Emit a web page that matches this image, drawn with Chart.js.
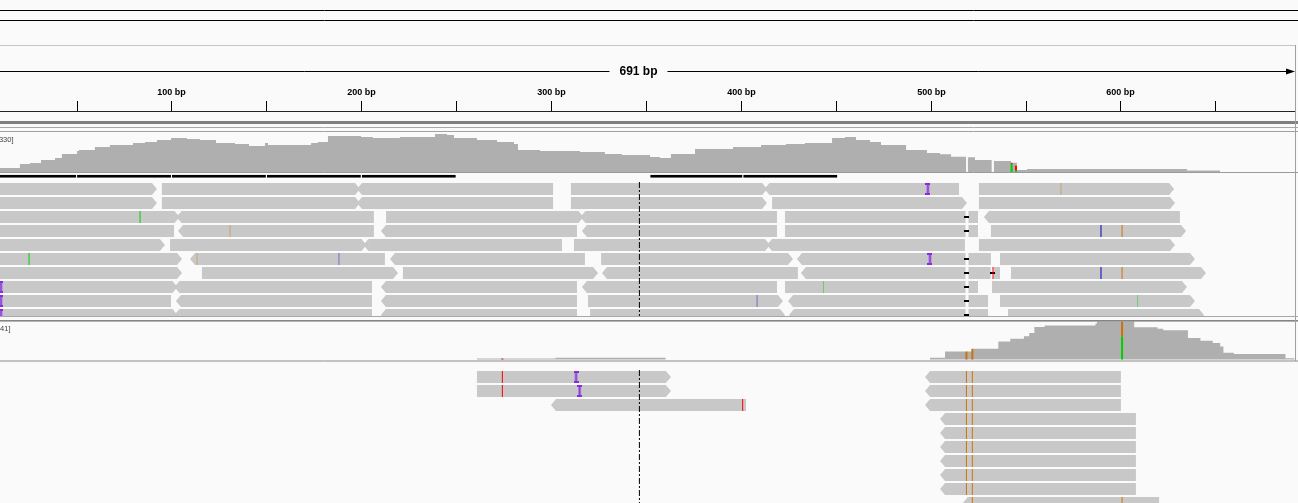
<!DOCTYPE html>
<html>
<head>
<meta charset="utf-8">
<title>IGV alignment view</title>
<script src="https://cdn.jsdelivr.net/npm/chart.js@4.4.1/dist/chart.umd.min.js"></script>
<style>
html,body{margin:0;padding:0;background:#fafafa;overflow:hidden;}
#wrap{position:relative;width:1298px;height:503px;}
</style>
</head>
<body>
<div id="wrap"><canvas id="chart"></canvas></div>
<script>
// ======================= DATA =======================
const viewRange = [9.4, 693.3];          // visible genomic window (bp)
const regionLabel = '691 bp';
const centerBp = 346.3;
const rulerStep = 50;
const rulerLabelStep = 100;

// coverage track 1 (step starts in bp, depth)
const cov1Pos = [9.4,19.9,25.2,31.0,38.4,42.0,50.0,51.0,59.4,67.3,79.5,85.8,92.1,99.5,107.9,114.8,123.2,133.2,140.6,149.0,150.6,173.3,176.9,182.2,199.6,205.9,220.1,238.6,244.9,248.6,260.7,271.3,280.2,282.3,293.9,315.0,328.1,337.1,351.9,357.1,362.9,375.6,395.6,410.4,423.5,433.5,447.8,454.6,460.4,467.8,473.6,486.8,497.8,504.7,510.5,518.4,519.4,523.1,531.9,533.1,542.1,545.2,550.5,634.8,652.2];
const cov1Depth = [34,68,76,102,118,152,178,186,212,228,245,254,271,288,279,271,245,237,220,245,228,245,254,305,296,288,296,322,313,288,271,254,237,186,178,169,152,144,127,118,152,195,212,228,237,245,288,296,271,254,228,186,161,150,129,0,124,102,0,93,79,17,25,13,0];
const cov1Max = 330;
const cov1Alleles = [[542.4,'A',0,70],[542.4,'T',70,77],[544.7,'A',0,14],[544.7,'T',14,53]];

// coverage track 2
const cov2Pos = [260.7,302.1,360.1,499.4,507.3,521.9,535.4,541.7,548.9,551.7,554.4,559.8,586.6,587.4,607.0,619.3,622.3,635.3,641.9,648.4,652.3,654.0,659.5,686.7,691.5];
const cov2Depth = [1,2,0,2,8.5,11.5,19.5,22.4,25,28.6,35.2,36.6,38.8,41,34.8,33.3,31.5,23.2,20.2,17.7,14,7.4,6,1.3,0];
const cov2Max = 41;
const cov2Alleles = [[274.1,'T',0,1],[518.6,'G',0,8.5],[521.7,'G',0,11.5],[600.6,'A',0,25],[600.6,'G',25,41]];

// downsampled windows (bp)
const downsampled = [[0,50],[50,100],[100,150],[150,200],[200,250],[352,401],[401,451]];

// reads: [row, start, end, strand]
const reads1 = [
 [0,0,92.1,'+'],[0,94.7,199.1,'+'],[0,197.5,300.8,'-'],[0,310.2,413.6,'+'],[0,412.2,514.7,'-'],[0,525.2,628.0,'+'],
 [1,0,92.1,'+'],[1,94.7,199.1,'+'],[1,197.5,300.8,'-'],[1,310.2,413.5,'+'],[1,416.2,518.9,'+'],[1,525.2,628.5,'+'],
 [2,0,104.0,'+'],[2,102.4,206.4,'-'],[2,212.8,316.8,'+'],[2,315.2,418.8,'-'],[2,423.0,524.7,''],[2,527.8,631.1,'-'],
 [3,0,101.1,''],[3,103.2,206.4,'-'],[3,210.1,313.4,'-'],[3,316.0,418.8,'-'],[3,423.0,524.7,''],[3,531.5,634.3,'+'],
 [4,0,96.3,'+'],[4,99.0,202.5,'+'],[4,200.9,305.5,'-'],[4,311.8,415.1,'+'],[4,413.5,517.8,'-'],[4,525.2,628.5,'+'],
 [5,0,105.3,'+'],[5,109.5,212.2,'-'],[5,214.9,317.6,'-'],[5,326.1,427.2,'+'],[5,429.3,531.5,'-'],[5,536.3,639.0,'+'],
 [6,0,105.3,'+'],[6,115.8,219.1,'+'],[6,221.7,324.5,'+'],[6,326.6,429.8,'-'],[6,431.4,536.3,'-'],[6,542.1,644.8,'+'],
 [7,0,102.9,'+'],[7,101.3,205.4,'-'],[7,210.1,313.4,'-'],[7,316.0,418.8,'-'],[7,423.0,524.7,''],[7,532.1,634.8,'+'],
 [8,0,99.5,''],[8,102.1,205.4,'-'],[8,210.1,313.4,'-'],[8,319.2,421.9,'+'],[8,424.6,530.0,'-'],[8,536.3,639.0,'+'],
 [9,0,102.9,'+'],[9,101.3,205.4,'-'],[9,210.1,313.4,'-'],[9,320.3,423.0,'+'],[9,425.1,530.0,'-'],[9,540.5,643.8,'+']
];
// mismatches: [row, pos, base, highQuality]
const mismatches1 = [
 [2,83.2,'A',1],[5,24.7,'A',1],[5,113.2,'G',0],[5,188.0,'C',0],[3,130.6,'G',0],[0,568.4,'G',0],
 [3,589.5,'C',1],[3,600.6,'G',1],[6,589.5,'C',1],[6,600.6,'G',1],[6,532.6,'T',1],
 [7,443.3,'A',0],[8,408.3,'C',0],[8,608.8,'A',0]
];
const deletions1 = [[2,518.9],[3,518.9],[5,518.9],[6,518.9],[7,518.9],[8,518.9],[9,518.9],[6,532.1]];
const insertions1 = [[0,498.3],[5,499.4],[7,9.9],[8,9.9],[9,9.9]];

const reads2 = [
 [0,260.7,362.9,'+'],[0,496.8,600.0,'-'],
 [1,260.7,362.9,'+'],[1,496.8,600.0,'-'],
 [2,299.7,402.5,'-'],[2,496.8,600.0,'-'],
 [3,504.7,607.9,'-'],[4,504.7,607.9,'-'],[5,504.7,607.9,'-'],[6,504.7,607.9,'-'],[7,504.7,607.9,'-'],[8,504.7,607.9,'-'],
 [9,516.7,620.1,'-']
];
const mismatches2 = [
 [0,274.1,'T',1],[1,274.1,'T',1],[2,400.7,'T',1],
 [0,518.6,'G',1],[0,521.7,'G',1],[1,518.6,'G',1],[1,521.7,'G',1],[2,518.6,'G',1],[2,521.7,'G',1],
 [3,518.6,'G',1],[3,521.7,'G',1],[4,518.6,'G',1],[4,521.7,'G',1],[5,518.6,'G',1],[5,521.7,'G',1],
 [6,518.6,'G',1],[6,521.7,'G',1],[7,518.6,'G',1],[7,521.7,'G',1],[8,518.6,'G',1],[8,521.7,'G',1],
 [9,521.7,'G',1],[9,600.6,'G',1]
];
const insertions2 = [[0,312.9],[1,314.8]];

// ======================= LAYOUT / STYLE =======================
const W = 1298, H = 503;
const BG = '#fafafa', READ_COLOR = '#c8c8c8', COV_COLOR = '#afafaf';
const BASE_COLORS = {A:'#00d000', C:'#0000c8', G:'#d17105', T:'#ff0000'};
const FONT = '"Liberation Sans", Arial, sans-serif';
const ROW_PITCH = 14, ROW_H = 12, TIP_PX = 5;
const TIP_BP = TIP_PX * (viewRange[1] - viewRange[0]) / W;
const L = {
  rulerY: 111.5, tickTop: 101, labelY: 93,
  cov1: {base: 172, top: 133},
  dsCenter: 176.3,
  reads1: {row0: 189, top: 182, bottom: 317},
  cov2: {base: 359.5, top: 321.5},
  reads2: {row0: 377, top: 370, bottom: 503}
};

function rowAxis(row0Px) {
  const min = -row0Px / ROW_PITCH;
  return {type:'linear', axis:'y', display:false, reverse:true, bounds:'data', offset:false, min, max: min + H / ROW_PITCH};
}
function depthAxis(basePx, topPx, maxVal) {
  const k = maxVal / (basePx - topPx);
  return {type:'linear', axis:'y', display:false, bounds:'data', offset:false, min: -(H - basePx) * k, max: maxVal + topPx * k};
}
function trackClip(t) { return {left:0, right:0, top: -t.top, bottom: -(H - t.bottom)}; }

function readBars(reads) {
  return reads.map(([row, s, e, str]) => ({x: [str === '-' ? s + TIP_BP : s, str === '+' ? e - TIP_BP : e], y: row}));
}
function readTips(reads) {
  return reads.filter(r => r[3]).map(([row, s, e, str]) =>
    str === '+' ? {row, base: e - TIP_BP, tip: e} : {row, base: s + TIP_BP, tip: s});
}
function glyph(w, h, draw) { const c = document.createElement('canvas'); c.width = w; c.height = h; draw(c.getContext('2d')); return c; }
const INS_GLYPH = glyph(5, 12, g => { g.fillStyle = '#8a2be2'; g.fillRect(1.5, 0, 2, 12); g.fillRect(0, 0, 5, 2); g.fillRect(0, 10, 5, 2); });
const DEL_GLYPH = glyph(5, 12, g => { g.fillStyle = BG; g.fillRect(1, 0, 3, 12); g.fillStyle = '#000'; g.fillRect(0, 5, 5, 2); });

const mmColor = ctx => { const r = ctx.raw; if (!r) return '#000'; const c = BASE_COLORS[r.b]; return r.q ? c : c + '70'; };
const alleleColor = ctx => ctx.raw ? BASE_COLORS[ctx.raw.b] : '#000';

function covDataset(pos, depth, axis) {
  return {type:'line', data: pos.map((p, i) => ({x: p, y: depth[i]})), yAxisID: axis, stepped: true, fill: 'origin',
    backgroundColor: COV_COLOR, borderColor: 'rgba(0,0,0,0)', borderWidth: 0, pointRadius: 0, tension: 0, order: 20};
}
function alleleDataset(alleles, axis) {
  return {type:'bar', indexAxis:'x', data: alleles.map(([p, b, lo, hi]) => ({x: p, y: [lo, hi], b})), yAxisID: axis,
    backgroundColor: alleleColor, barThickness: 2, grouped: false, borderWidth: 0, inflateAmount: 0, order: 19};
}
function readDataset(reads, axis, track) {
  return {type:'bar', indexAxis:'y', data: readBars(reads), xAxisID:'x', yAxisID: axis, backgroundColor: READ_COLOR,
    barThickness: ROW_H, grouped: false, borderWidth: 0, inflateAmount: 0, clip: trackClip(track), order: 15,
    readTips: readTips(reads), track};
}
function markDataset(marks, axis, track) {
  return {type:'line', showLine:false, data: marks.map(([row, p, b, q]) => ({x: p, y: row, b, q})), yAxisID: axis,
    pointStyle:'line', rotation: 90, pointRadius: ROW_H / 2, pointBorderWidth: 1, pointBorderColor: mmColor,
    pointBackgroundColor: mmColor, clip: trackClip(track), order: 5};
}
function glyphDataset(points, axis, track, img, order) {
  return {type:'line', showLine:false, data: points.map(([row, p]) => ({x: p, y: row})), yAxisID: axis,
    pointStyle: img, pointRadius: 3, clip: trackClip(track), order};
}
function centerDataset(axis, track) {
  return {type:'line', data: [{x: centerBp, y: -0.5}, {x: centerBp, y: 12}], yAxisID: axis, borderColor: '#000',
    borderWidth: 1, borderDash: [6, 2, 2, 2], pointRadius: 0, clip: trackClip(track), order: 2};
}

// ======================= PLUGINS =======================
const tipPlugin = {
  id: 'readTips',
  afterDatasetDraw(chart, args) {
    const ds = chart.data.datasets[args.index];
    if (!ds.readTips) return;
    const c = chart.ctx, xs = chart.scales.x, ys = chart.scales[ds.yAxisID], t = ds.track;
    c.save();
    c.beginPath(); c.rect(chart.chartArea.left, t.top, chart.chartArea.width, t.bottom - t.top); c.clip();
    c.fillStyle = ds.backgroundColor;
    const h = ds.barThickness / 2;
    for (const tip of ds.readTips) {
      const yc = ys.getPixelForValue(tip.row), xb = xs.getPixelForValue(tip.base), xt = xs.getPixelForValue(tip.tip);
      const back = xb + (xt > xb ? -0.4 : 0.4);
      c.beginPath(); c.moveTo(back, yc - h); c.lineTo(xb, yc - h); c.lineTo(xt, yc); c.lineTo(xb, yc + h); c.lineTo(back, yc + h); c.closePath(); c.fill();
    }
    c.restore();
  }
};

const chromePlugin = {
  id: 'igvChrome',
  beforeDraw(chart) {
    const c = chart.ctx, w = chart.width, xs = chart.scales.x;
    const hline = (y, color, x0 = 0, x1 = w) => { c.strokeStyle = color; c.lineWidth = 1; c.beginPath(); c.moveTo(x0, y); c.lineTo(x1, y); c.stroke(); };
    c.save();
    c.fillStyle = BG; c.fillRect(0, 0, w, chart.height);
    hline(10.5, '#000'); hline(20.5, '#000');
    hline(45.5, '#c4c4ce', 0, 1296);
    // region span
    c.font = 'bold 12px ' + FONT;
    const tw = c.measureText(regionLabel).width, cx = 638.5;
    hline(71.5, '#000', 0, cx - tw / 2 - 10);
    hline(71.5, '#000', cx + tw / 2 + 10, 1289);
    c.fillStyle = '#000';
    c.beginPath(); c.moveTo(1286, 68.5); c.lineTo(1295, 71.5); c.lineTo(1286, 74.5); c.closePath(); c.fill();
    c.textAlign = 'center'; c.textBaseline = 'middle';
    c.fillText(regionLabel, cx, 72);
    // ruler ticks from the x scale
    c.font = 'bold 9px ' + FONT;
    c.strokeStyle = '#000'; c.lineWidth = 1;
    for (let v = Math.ceil(xs.min / rulerStep) * rulerStep; v <= xs.max; v += rulerStep) {
      const px = Math.round(xs.getPixelForValue(v) - 0.5) + 0.5;
      c.beginPath(); c.moveTo(px, L.tickTop); c.lineTo(px, L.rulerY); c.stroke();
      if (v % rulerLabelStep === 0) c.fillText(v + ' bp', px, L.labelY);
    }
    hline(L.rulerY, '#222', 0, 1296);
    c.fillStyle = '#808080'; c.fillRect(0, 121, w, 3);
    hline(127.5, '#a8a8a8'); hline(131.5, '#a0a0a0');
    c.restore();
  },
  afterDatasetsDraw(chart) {
    const c = chart.ctx, w = chart.width;
    const hline = (y, color, x0 = 0, x1 = w) => { c.strokeStyle = color; c.lineWidth = 1; c.beginPath(); c.moveTo(x0, y); c.lineTo(x1, y); c.stroke(); };
    c.save();
    hline(172.5, '#9a9a9a');
    hline(316.5, '#a8a8a8');
    c.fillStyle = '#858585'; c.fillRect(0, 320, w, 1.6);
    hline(361, '#8a8a8a');
    c.strokeStyle = '#a0a0a0'; c.beginPath(); c.moveTo(1295.5, 45); c.lineTo(1295.5, 361); c.stroke();
    c.font = '7.5px ' + FONT; c.fillStyle = '#444'; c.textAlign = 'right'; c.textBaseline = 'middle';
    c.fillText('[0-' + cov1Max + ']', 13.5, 140);
    c.fillText('[0-' + cov2Max + ']', 10.5, 328.5);
    c.restore();
  }
};

// ======================= CHART =======================
new Chart(document.getElementById('chart'), {
  type: 'line',
  data: {
    datasets: [
      covDataset(cov1Pos, cov1Depth, 'yCov1'),
      alleleDataset(cov1Alleles, 'yCov1'),
      {type:'bar', indexAxis:'y', data: downsampled.map(([s, e]) => ({x: [s, e], y: 0})), yAxisID: 'yDs',
        backgroundColor: '#000', borderColor: BG, borderWidth: {left: 0, right: 1, top: 0, bottom: 0}, borderSkipped: false,
        barThickness: 3, grouped: false, inflateAmount: 0, order: 18},
      readDataset(reads1, 'yReads1', L.reads1),
      glyphDataset(deletions1, 'yReads1', L.reads1, DEL_GLYPH, 6),
      markDataset(mismatches1, 'yReads1', L.reads1),
      glyphDataset(insertions1, 'yReads1', L.reads1, INS_GLYPH, 4),
      centerDataset('yReads1', L.reads1),
      covDataset(cov2Pos, cov2Depth, 'yCov2'),
      alleleDataset(cov2Alleles, 'yCov2'),
      readDataset(reads2, 'yReads2', L.reads2),
      markDataset(mismatches2, 'yReads2', L.reads2),
      glyphDataset(insertions2, 'yReads2', L.reads2, INS_GLYPH, 4),
      centerDataset('yReads2', L.reads2)
    ]
  },
  options: {
    responsive: true, maintainAspectRatio: false, animation: false, events: [],
    layout: {padding: 0, autoPadding: false},
    plugins: {legend: {display: false}, tooltip: {enabled: false}},
    scales: {
      x: {type: 'linear', display: false, min: viewRange[0], max: viewRange[1], bounds: 'data', offset: false,
          ticks: {stepSize: rulerStep}},
      yCov1: depthAxis(L.cov1.base, L.cov1.top, cov1Max),
      yDs: rowAxis(L.dsCenter),
      yReads1: rowAxis(L.reads1.row0),
      yCov2: depthAxis(L.cov2.base, L.cov2.top, cov2Max),
      yReads2: rowAxis(L.reads2.row0)
    }
  },
  plugins: [chromePlugin, tipPlugin]
});
</script>
</body>
</html>
